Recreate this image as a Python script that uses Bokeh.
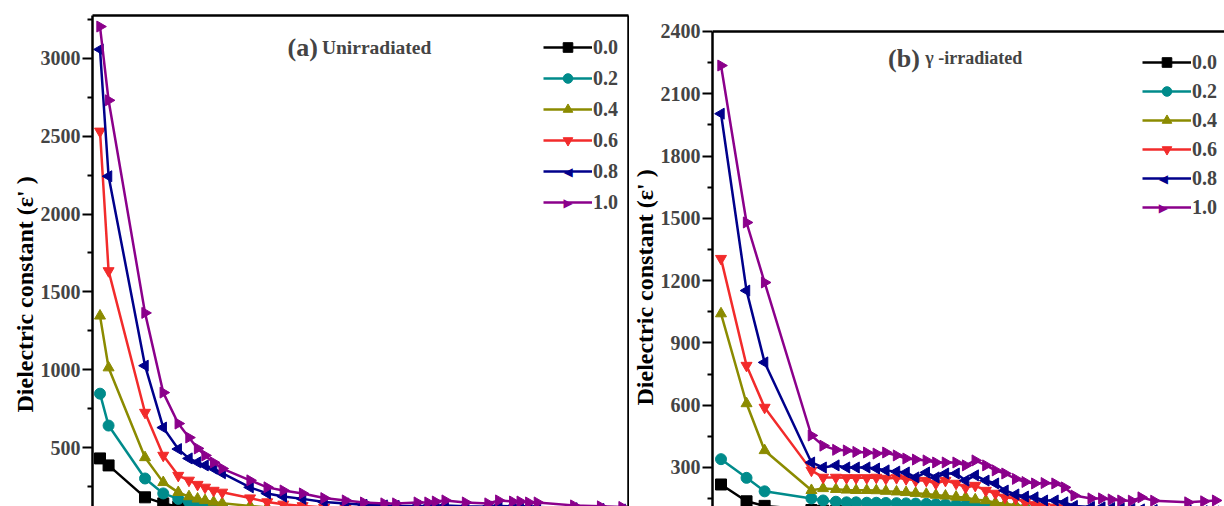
from bokeh.plotting import figure
from bokeh.models import (LinearAxis, FixedTicker, Range1d, Legend, LegendItem, Label,
                          Span, Title)
from bokeh.layouts import row
from bokeh.embed import file_html
from bokeh.resources import INLINE

FONT = "Liberation Serif"

# ---------------- data (frequency, arbitrary linear units)
labels = ["0.0", "0.2", "0.4", "0.6", "0.8", "1.0"]
colors = ["#000000", "#008B8B", "#8B8B00", "#F22B2B", "#00008B", "#8B008B"]
markers = ["square", "circle", "triangle", "inverted_triangle", "triangle", "triangle"]
angles = [0.0, 0.0, 0.0, 0.0, 1.5708, -1.5708]
key_symbols = [None, None, None, None, "◀", "▶"]
y_title = "Dielectric constant (ε' )"

freq_a = [0.07, 0.15, 0.49, 0.66, 0.80, 0.90, 0.98, 1.05, 1.13, 1.21, 1.47, 1.63, 1.78,
          1.96, 2.16, 2.36, 2.53, 2.72, 2.83, 3.03, 3.13, 3.20, 3.29, 3.48, 3.69, 3.79,
          3.92, 3.99, 4.07, 4.15, 4.49, 4.74, 4.94]
eps_a_00 = [430, 385, 180, 141, 120, 110, 102, 96, 91, 87, 78, 73, 69, 66, 63, 61, 59, 58,
            57, 56, 56, 55, 55, 54, 53, 54, 53, 53, 52, 52, 50, 49, 48]
eps_a_02 = [846, 641, 301, 205, 170, 150, 140, 130, 122, 116, 102, 94, 88, 84, 80, 77, 75,
            73, 72, 71, 70, 70, 71, 69, 68, 69, 68, 68, 67, 67, 65, 64, 63]
eps_a_04 = [1346, 1013, 436, 276, 212, 185, 170, 160, 150, 142, 125, 115, 108, 100, 95, 90,
            87, 85, 84, 83, 82, 82, 83, 81, 80, 81, 80, 80, 79, 78, 76, 75, 74]
eps_a_06 = [2532, 1635, 725, 449, 320, 289, 262, 244, 224, 212, 175, 150, 135, 125, 115,
            108, 103, 100, 98, 97, 96, 96, 97, 95, 93, 95, 94, 93, 92, 91, 88, 86, 85]
eps_a_08 = [3058, 2243, 1026, 628, 490, 430, 405, 385, 365, 335, 244, 205, 185, 170, 150,
            140, 132, 128, 125, 125, 124, 126, 128, 122, 120, 125, 122, 122, 120, 118, 110,
            105, 102]
eps_a_10 = [3205, 2731, 1365, 853, 654, 564, 494, 449, 404, 365, 289, 244, 224, 205, 175,
            160, 147, 141, 141, 147, 147, 153, 160, 147, 141, 160, 153, 153, 147, 147, 128,
            122, 118]

freq_b = [0.08, 0.32, 0.49, 0.93, 1.04, 1.16, 1.26, 1.35, 1.45, 1.54, 1.63, 1.73, 1.82,
          1.91, 2.01, 2.10, 2.19, 2.29, 2.38, 2.47, 2.57, 2.66, 2.75, 2.85, 2.94, 3.03,
          3.12, 3.22, 3.31, 3.40, 3.56, 3.66, 3.75, 3.84, 3.94, 4.03, 4.15, 4.47, 4.62, 4.73]
eps_b_00 = [218, 137, 115, 95, 92, 90, 89, 88, 87, 86, 85, 84, 83, 82, 81, 80, 79, 78, 77,
            76, 75, 74, 73, 72, 71, 70, 69, 68, 67, 66, 65, 64, 63, 62, 62, 61, 60, 59, 58, 58]
eps_b_02 = [340, 250, 185, 151, 141, 135, 132, 132, 130, 130, 129, 128, 127, 126, 125, 123,
            122, 120, 118, 116, 113, 110, 107, 104, 101, 98, 95, 93, 91, 89, 87, 85, 84, 83,
            82, 81, 80, 78, 77, 76]
eps_b_04 = [1041, 608, 382, 190, 199, 195, 192, 190, 190, 189, 186, 183, 180, 176, 172, 167,
            163, 158, 156, 145, 141, 130, 125, 118, 112, 108, 104, 100, 97, 94, 91, 89, 87,
            86, 85, 84, 82, 80, 79, 78]
eps_b_06 = [1306, 791, 589, 286, 252, 252, 250, 250, 250, 252, 247, 250, 245, 237, 237, 223,
            237, 223, 204, 213, 189, 175, 156, 151, 132, 120, 112, 108, 104, 100, 97, 95, 93,
            91, 90, 89, 87, 85, 84, 83]
eps_b_08 = [2004, 1152, 806, 324, 300, 310, 300, 300, 300, 295, 286, 280, 276, 252, 276, 252,
            271, 271, 237, 262, 237, 223, 189, 170, 160, 156, 141, 141, 132, 115, 110, 108,
            105, 102, 100, 98, 95, 92, 90, 88]
eps_b_10 = [2236, 1480, 1191, 454, 405, 385, 382, 375, 372, 367, 372, 358, 343, 338, 334, 324,
            324, 324, 310, 334, 310, 286, 271, 245, 230, 223, 225, 223, 204, 165, 151, 151,
            146, 141, 140, 156, 140, 132, 137, 141]

ticks_a = [500, 1000, 1500, 2000, 2500, 3000]
minor_a = [250, 750, 1250, 1750, 2250, 2750, 3250]
ticks_b = [300, 600, 900, 1200, 1500, 1800, 2100, 2400]
minor_b = [150, 450, 750, 1050, 1350, 1650, 1950, 2250]

GLYPH_H = 24
GLYPH_W = 49
TOP = 15          # common top border of both panels (frames are aligned by the row)
HEIGHT = 506


def frame_axis():
    return LinearAxis(ticker=FixedTicker(ticks=[]), axis_line_width=2.5,
                      axis_line_color="black", major_tick_line_color=None,
                      minor_tick_line_color=None, major_tick_out=0, major_tick_in=0,
                      minor_tick_out=0, minor_tick_in=0,
                      major_label_text_font_size="0px", major_label_standoff=0)


def panel(width, bl, br, xr, yr, axis_bounds, freq, series, ticks, minor, legend_loc,
          legend_spacing, right_frame, top_line, title_offset):
    p = figure(width=width, height=HEIGHT, output_backend="svg", toolbar_location=None,
               x_range=Range1d(*xr), y_range=Range1d(*yr), x_axis_location=None,
               min_border_left=bl, min_border_right=br, min_border_top=TOP,
               min_border_bottom=0, background_fill_color="white",
               border_fill_color="white")
    p.outline_line_color = None
    p.grid.visible = False
    ya = p.yaxis[0]
    ya.ticker = FixedTicker(ticks=ticks, minor_ticks=minor)
    ya.bounds = axis_bounds
    ya.axis_line_width = 2.5
    ya.major_tick_line_width = 2
    ya.minor_tick_line_width = 2
    ya.major_tick_out = 10
    ya.major_tick_in = 0
    ya.minor_tick_out = 5
    ya.minor_tick_in = 0
    ya.major_label_text_font = FONT
    ya.major_label_text_font_style = "bold"
    ya.major_label_text_font_size = "20px"
    ya.major_label_standoff = 2
    # y-axis title as a side title, so that it can sit lower, as in the original
    p.add_layout(Title(text=y_title, text_font=FONT, text_font_style="bold",
                       text_font_size="24px", align="left", offset=title_offset,
                       standoff=0, text_color="black"), "left")
    if top_line is None:
        p.add_layout(frame_axis(), "above")
    else:
        p.add_layout(Span(location=top_line, dimension="width", line_color="black",
                          line_width=2.5))
    if right_frame:
        p.add_layout(frame_axis(), "right")

    frame_w = width - bl - br
    frame_h = HEIGHT - TOP
    n = len(labels)
    leg_h = n * GLYPH_H + (n - 1) * legend_spacing
    items = []
    for i, (lab, col, mk, ang, key, ys) in enumerate(
            zip(labels, colors, markers, angles, key_symbols, series)):
        l = p.line(freq, ys, line_color=col, line_width=2.5)
        s = p.scatter(freq, ys, marker=mk, size=11, angle=ang, fill_color=col,
                      line_color=col)
        if key is None:
            items.append(LegendItem(label=lab, renderers=[l, s]))
        else:
            items.append(LegendItem(label=lab, renderers=[l]))
            # legend key marker (rotated triangle) placed over the legend glyph
            cx_px = legend_loc[0] + GLYPH_W / 2
            cy_top = (frame_h - legend_loc[1] - leg_h + GLYPH_H / 2
                      + i * (GLYPH_H + legend_spacing))
            kx = xr[0] + cx_px / frame_w * (xr[1] - xr[0])
            ky = yr[1] - cy_top / frame_h * (yr[1] - yr[0])
            p.add_layout(Label(x=kx, y=ky, text=key, text_color=col,
                               text_font="DejaVu Sans", text_font_size="12px",
                               text_align="center", text_baseline="middle"))
    leg = Legend(items=items, location=legend_loc, label_text_font=FONT,
                 label_text_font_style="bold", label_text_font_size="20px",
                 glyph_width=GLYPH_W, glyph_height=GLYPH_H, label_height=GLYPH_H,
                 label_standoff=1, spacing=legend_spacing, padding=0, margin=0,
                 border_line_color=None, background_fill_alpha=0)
    p.add_layout(leg)
    return p


# panel a: frame x 92..628 ; panel b: frame x 708..1224, its top line at 2400
pa = panel(629, 92, 1, (0, 5.0), (121, 3276), "auto", freq_a,
           [eps_a_00, eps_a_02, eps_a_04, eps_a_06, eps_a_08, eps_a_10],
           ticks_a, minor_a, (451, 292), 7, True, None, 94)
pb = panel(595, 79, 0, (0, 516 / 107.2), (112, 2477), (0, 2400), freq_b,
           [eps_b_00, eps_b_02, eps_b_04, eps_b_06, eps_b_08, eps_b_10],
           ticks_b, minor_b, (430, 287), 5, False, 2400, 101)

pa.add_layout(Label(x=1.82, y=3070, text="(a)", text_font=FONT, text_font_style="bold",
                    text_font_size="26px", text_baseline="alphabetic"))
pa.add_layout(Label(x=2.14, y=3070, text="Unirradiated", text_font=FONT,
                    text_font_style="bold", text_font_size="19.5px",
                    text_baseline="alphabetic"))
pb.add_layout(Label(x=1.65, y=2270, text="(b)", text_font=FONT, text_font_style="bold",
                    text_font_size="26px", text_baseline="alphabetic"))
pb.add_layout(Label(x=2.0, y=2270, text="γ -irradiated", text_font=FONT,
                    text_font_style="bold", text_font_size="18px",
                    text_baseline="alphabetic"))

layout = row(pa, pb)
open("out.html", "w").write(file_html(layout, INLINE))
